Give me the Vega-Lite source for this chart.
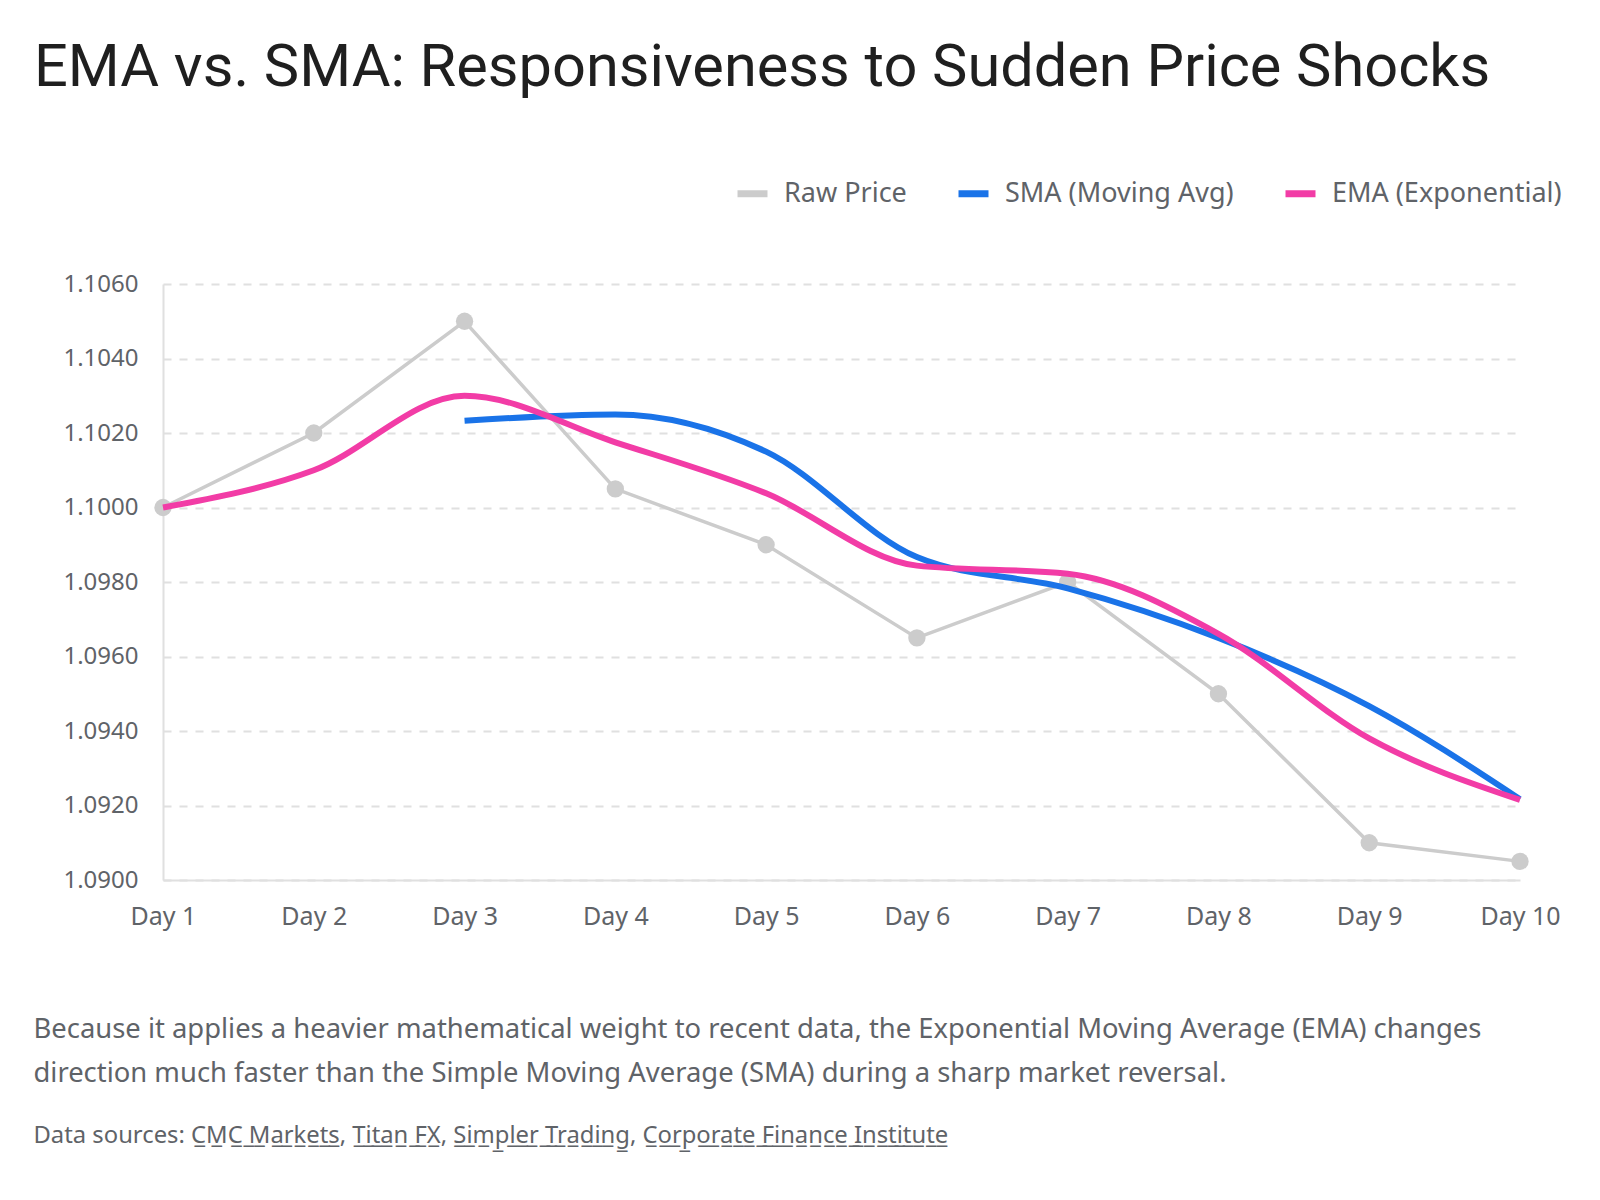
{
  "$schema": "https://vega.github.io/schema/vega-lite/v6.json",
  "autosize": {"type": "none"},
  "padding": {"left": 163, "top": 284, "right": 80, "bottom": 320},
  "width": 1357,
  "height": 596,
  "background": "#ffffff",
  "title": {
    "text": "EMA vs. SMA: Responsiveness to Sudden Price Shocks",
    "anchor": "start",
    "frame": "group",
    "dx": -129,
    "offset": 77,
    "fontSize": 59.5,
    "fontWeight": "normal",
    "font": "Roboto",
    "color": "#1f1f1f"
  },
  "data": {
    "values": [
      {"day": "Day 1", "series": "Raw Price", "value": 1.1000},
      {"day": "Day 2", "series": "Raw Price", "value": 1.1020},
      {"day": "Day 3", "series": "Raw Price", "value": 1.1050},
      {"day": "Day 4", "series": "Raw Price", "value": 1.1005},
      {"day": "Day 5", "series": "Raw Price", "value": 1.0990},
      {"day": "Day 6", "series": "Raw Price", "value": 1.0965},
      {"day": "Day 7", "series": "Raw Price", "value": 1.0980},
      {"day": "Day 8", "series": "Raw Price", "value": 1.0950},
      {"day": "Day 9", "series": "Raw Price", "value": 1.0910},
      {"day": "Day 10", "series": "Raw Price", "value": 1.0905},
      {"day": "Day 3", "series": "SMA (Moving Avg)", "value": 1.10233},
      {"day": "Day 4", "series": "SMA (Moving Avg)", "value": 1.10250},
      {"day": "Day 5", "series": "SMA (Moving Avg)", "value": 1.10150},
      {"day": "Day 6", "series": "SMA (Moving Avg)", "value": 1.09867},
      {"day": "Day 7", "series": "SMA (Moving Avg)", "value": 1.09783},
      {"day": "Day 8", "series": "SMA (Moving Avg)", "value": 1.09650},
      {"day": "Day 9", "series": "SMA (Moving Avg)", "value": 1.09467},
      {"day": "Day 10", "series": "SMA (Moving Avg)", "value": 1.09217},
      {"day": "Day 1", "series": "EMA (Exponential)", "value": 1.1000},
      {"day": "Day 2", "series": "EMA (Exponential)", "value": 1.1010},
      {"day": "Day 3", "series": "EMA (Exponential)", "value": 1.1030},
      {"day": "Day 4", "series": "EMA (Exponential)", "value": 1.10175},
      {"day": "Day 5", "series": "EMA (Exponential)", "value": 1.10038},
      {"day": "Day 6", "series": "EMA (Exponential)", "value": 1.09844},
      {"day": "Day 7", "series": "EMA (Exponential)", "value": 1.09822},
      {"day": "Day 8", "series": "EMA (Exponential)", "value": 1.09661},
      {"day": "Day 9", "series": "EMA (Exponential)", "value": 1.09380},
      {"day": "Day 10", "series": "EMA (Exponential)", "value": 1.09215}
    ]
  },
  "encoding": {
    "x": {
      "field": "day",
      "type": "ordinal",
      "sort": ["Day 1", "Day 2", "Day 3", "Day 4", "Day 5", "Day 6", "Day 7", "Day 8", "Day 9", "Day 10"],
      "scale": {"type": "point", "padding": 0},
      "axis": {
        "labelAngle": 0,
        "labelFontSize": 25,
        "labelColor": "#5f6368",
        "labelFont": "Noto Sans",
        "labelPadding": 24,
        "ticks": false,
        "grid": false,
        "domain": true,
        "domainColor": "#e0e0e0",
        "domainWidth": 2,
        "title": [
          "Because it applies a heavier mathematical weight to recent data, the Exponential Moving Average (EMA) changes",
          "direction much faster than the Simple Moving Average (SMA) during a sharp market reversal."
        ],
        "titleFont": "Noto Sans",
        "titleFontSize": 27.4,
        "titleFontWeight": "normal",
        "titleColor": "#5f6368",
        "titleAlign": "left",
        "titleAnchor": "start",
        "titleBaseline": "alphabetic",
        "titleLineHeight": 44,
        "titleX": -130,
        "titleY": 157
      }
    },
    "y": {
      "field": "value",
      "type": "quantitative",
      "scale": {"domain": [1.09, 1.106], "nice": false, "zero": false},
      "axis": {
        "values": [1.09, 1.092, 1.094, 1.096, 1.098, 1.1, 1.102, 1.104, 1.106],
        "format": ".4f",
        "labelFontSize": 24,
        "labelColor": "#5f6368",
        "labelFont": "Noto Sans",
        "labelPadding": 25,
        "ticks": false,
        "domain": true,
        "domainColor": "#e0e0e0",
        "domainWidth": 2,
        "grid": true,
        "gridColor": "#e0e0e0",
        "gridWidth": 2,
        "gridDash": [8, 8],
        "title": "Data sources: C\u0332M\u0332C\u0332 \u0332M\u0332a\u0332r\u0332k\u0332e\u0332t\u0332s\u0332, T\u0332i\u0332t\u0332a\u0332n\u0332 \u0332F\u0332X\u0332, S\u0332i\u0332m\u0332p\u0332l\u0332e\u0332r\u0332 \u0332T\u0332r\u0332a\u0332d\u0332i\u0332n\u0332g\u0332, C\u0332o\u0332r\u0332p\u0332o\u0332r\u0332a\u0332t\u0332e\u0332 \u0332F\u0332i\u0332n\u0332a\u0332n\u0332c\u0332e\u0332 \u0332I\u0332n\u0332s\u0332t\u0332i\u0332t\u0332u\u0332t\u0332e\u0332",
        "titleFont": "Noto Sans",
        "titleFontSize": 23.8,
        "titleFontWeight": "normal",
        "titleColor": "#5f6368",
        "titleAngle": 0,
        "titleAlign": "left",
        "titleBaseline": "alphabetic",
        "titleX": -130,
        "titleY": 858
      }
    },
    "color": {
      "field": "series",
      "type": "nominal",
      "scale": {
        "domain": ["Raw Price", "SMA (Moving Avg)", "EMA (Exponential)"],
        "range": ["#cccccc", "#1a73e8", "#f23ca6"]
      },
      "legend": {
        "title": null,
        "orient": "none",
        "direction": "horizontal",
        "legendX": 571,
        "legendY": -109,
        "symbolType": "stroke",
        "symbolStrokeWidth": 7,
        "symbolSize": 900,
        "labelFont": "Noto Sans",
        "labelFontSize": 27,
        "labelColor": "#5f6368",
        "labelLimit": 0,
        "labelOffset": 13,
        "columnPadding": 37
      }
    }
  },
  "layer": [
    {
      "transform": [{"filter": "datum.series === 'Raw Price'"}],
      "mark": {"type": "line", "strokeWidth": 3.5, "interpolate": "linear"}
    },
    {
      "transform": [{"filter": "datum.series === 'Raw Price'"}],
      "mark": {"type": "point", "filled": true, "opacity": 1, "size": 300, "color": "#cccccc"},
      "encoding": {"color": {"value": "#cccccc"}}
    },
    {
      "transform": [{"filter": "datum.series === 'SMA (Moving Avg)'"}],
      "mark": {"type": "line", "strokeWidth": 6, "interpolate": "monotone"}
    },
    {
      "transform": [{"filter": "datum.series === 'EMA (Exponential)'"}],
      "mark": {"type": "line", "strokeWidth": 6, "interpolate": "monotone"}
    }
  ],
  "config": {
    "view": {"stroke": null}
  }
}
